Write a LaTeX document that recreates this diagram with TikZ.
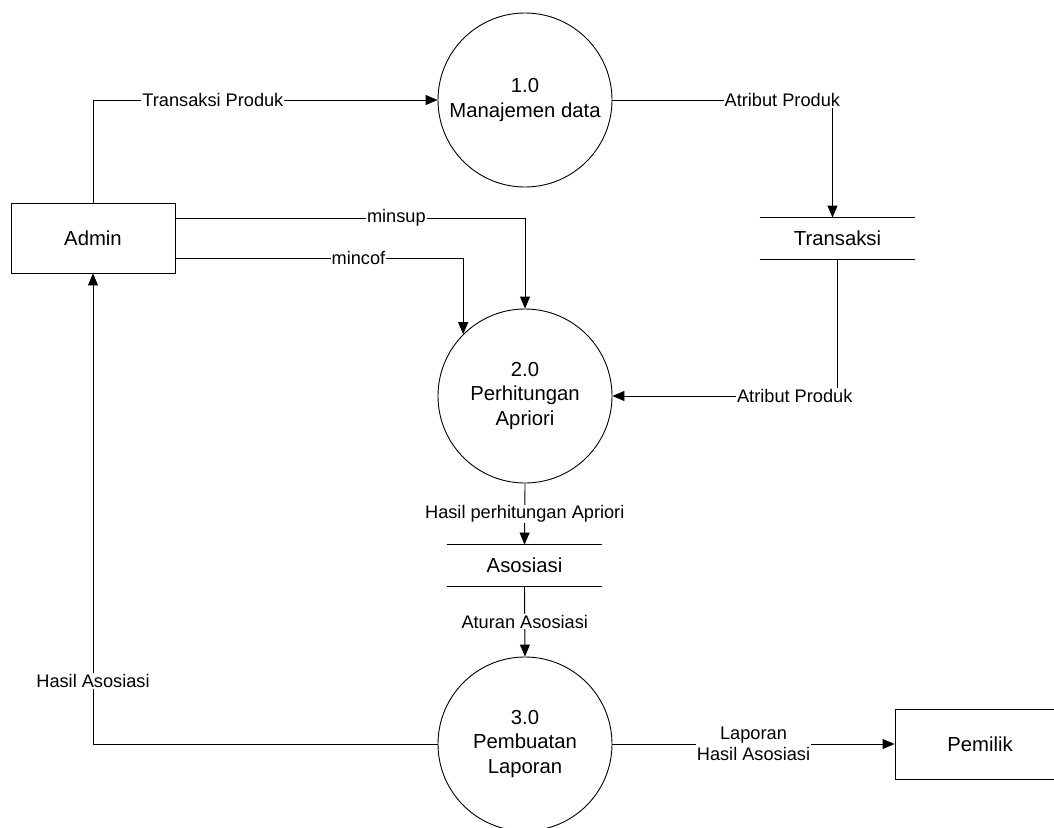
\documentclass[tikz,border=0pt]{standalone}
\usepackage{fontspec}
\setmainfont{Liberation Sans}
\usetikzlibrary{arrows.meta,calc,positioning}

\begin{document}
\begin{tikzpicture}[x=1pt, y=-1pt,
      dfdnode/.style = {align=center, inner sep=0pt, text centered,
        font=\fontsize{20.3}{24.5}\selectfont},
      proc/.style = {dfdnode, circle, draw=black, minimum size=174pt},
      ent/.style = {dfdnode, rectangle, draw=black, minimum height=70pt},
      store/.style = {dfdnode, minimum width=155pt, minimum height=41pt},
      flow/.style = {fill=white, inner sep=1pt, align=center,
        font=\fontsize{18.2}{21}\selectfont},
      ->, >={Triangle[length=12pt,width=10pt]}, line width=0.9pt]
    \useasboundingbox (0,0) rectangle (1054,827);
    \clip (0,0) rectangle (1054,827);

    % entities, processes, stores
    \node [ent, minimum width=164pt] (admin) at (93,238) {Admin};
    \node [ent, minimum width=170pt] (pemilik) at (980,744) {Pemilik};
    \node [proc] (p1) at (525,100) {1.0\\Manajemen data};
    \node [proc] (p2) at (525,396) {2.0\\Perhitungan\\Apriori};
    \node [proc] (p3) at (525,744) {3.0\\Pembuatan\\Laporan};
    \node [store] (trans) at (837.5,238.5) {Transaksi};
    \node [store] (asos) at (524.5,565.5) {Asosiasi};
    \draw [-] (trans.north west) -- (trans.north east)
              (trans.south west) -- (trans.south east);
    \draw [-] (asos.north west) -- (asos.north east)
              (asos.south west) -- (asos.south east);

    % flows
    \draw (admin.north) |- node [flow, pos=0.674] (tprod) {Transaksi Produk} (p1.west);
    \draw (p1.east) -| node [flow, pos=0.386] (attr1) {Atribut Produk} ([xshift=-5pt]trans.north);
    \draw ([yshift=20pt]admin.east) -| node [flow, pos=0.316] (msup) {minsup} (p2.north);
    \draw ([yshift=-20pt]admin.east) -| node [flow, pos=0.318] (mcof) {mincof} (p2.135);
    \draw (trans.south) |- node [flow, pos=0.595] (attr2) {Atribut Produk} (p2.east);
    \draw (p2.south) -- node [flow] (hpa) {Hasil perhitungan Apriori} (asos.north);
    \draw (asos.south) -- node [flow] (aturan) {Aturan Asosiasi} (p3.north);
    \draw (p3.west) -| node [flow, pos=0.567] (hasil) {Hasil Asosiasi} (admin.south);
    \draw (p3.east) -- node [flow] (lapor) {Laporan\\Hasil Asosiasi} (pemilik.west);
\end{tikzpicture}
\end{document}
